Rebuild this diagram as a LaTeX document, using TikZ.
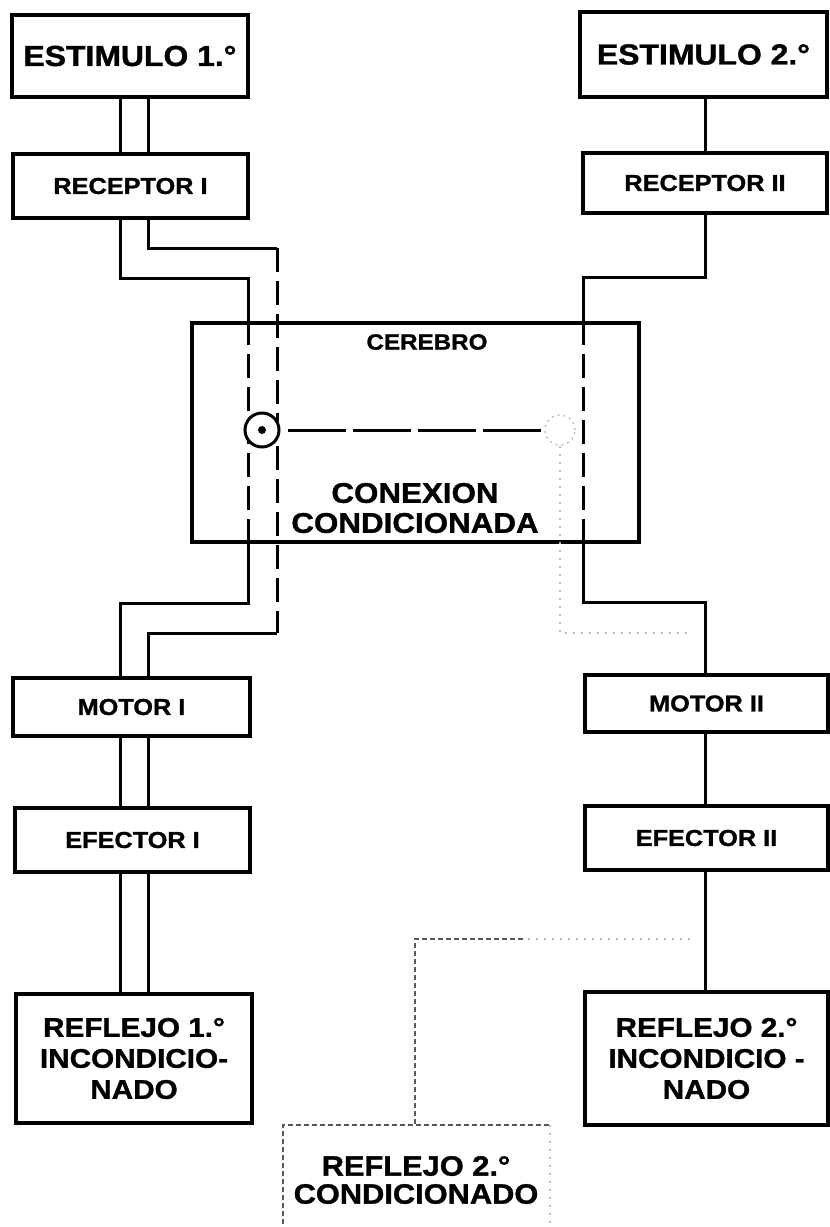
\documentclass[tikz,border=0pt]{standalone}
\usepackage{fontspec}
\newfontfamily\lab[FakeStretch=1.1,FakeBold=1.2]{Liberation Sans}
\begin{document}
\begin{tikzpicture}[x=1pt,y=-1pt,
  box/.style={draw, line width=3.6pt, inner sep=0pt, align=center},
  fz/.style={font=\lab\bfseries\fontsize{#1}{#1}\selectfont},
  wire/.style={line width=3pt, line join=miter},
  brain/.style={wire, dash pattern=on 24pt off 9pt},
  faint/.style={line width=1.3pt, gray!55, dash pattern=on 2pt off 6pt},
  condl/.style={line width=2pt, black!65, dash pattern=on 5pt off 3pt}]
\useasboundingbox (0,0) rectangle (830,1227);
\fill[white] (0,0) rectangle (830,1227);
\clip (0,0) rectangle (830,1227);
% x / y guide coordinates
\coordinate (xa) at (120,0);
\coordinate (xb) at (148,0);
\coordinate (xc) at (248,0);
\coordinate (xd) at (277,0);
\coordinate (xe) at (583,0);
\coordinate (xf) at (705,0);
\coordinate (ya) at (0,278);
\coordinate (yb) at (0,248);
\coordinate (yc) at (0,603);
\coordinate (yd) at (0,633);
\coordinate (ye) at (0,277);
\coordinate (yf) at (0,602);
% boxes
\node[box, fz=29, minimum width=236pt, minimum height=82pt] (est1) at (130,56) {ESTIMULO 1.°};
\node[box, fz=29, minimum width=247pt, minimum height=85pt] (est2) at (703.5,54.5) {ESTIMULO 2.°};
\node[box, fz=23, minimum width=235pt, minimum height=64pt] (rec1) at (130.5,186) {RECEPTOR I};
\node[box, fz=23, minimum width=244pt, minimum height=60pt] (rec2) at (705,183) {RECEPTOR II};
\node[box, minimum width=447pt, minimum height=219pt] (cer) at (415.5,432.5) {};
\node[fz=22] (cerl) at (427,342) {CEREBRO};
\node[font=\lab\bfseries\fontsize{28.5}{30}\selectfont, align=center] (conl) at (415,508) {CONEXION\\CONDICIONADA};
\node[box, fz=23, minimum width=237pt, minimum height=58pt] (mot1) at (131.5,707) {MOTOR I};
\node[box, fz=23, minimum width=243pt, minimum height=57pt] (mot2) at (706.5,703.5) {MOTOR II};
\node[box, fz=23, minimum width=235pt, minimum height=64pt] (efe1) at (132.5,840) {EFECTOR I};
\node[box, fz=23, minimum width=243pt, minimum height=64pt] (efe2) at (706.5,838) {EFECTOR II};
\node[box, font=\lab\bfseries\fontsize{27}{31}\selectfont, minimum width=236pt, minimum height=129pt] (ref1) at (134,1058.5) {REFLEJO 1.°\\INCONDICIO-\\NADO};
\node[box, font=\lab\bfseries\fontsize{27}{31}\selectfont, minimum width=243pt, minimum height=133pt] (ref2) at (706.5,1058.5) {REFLEJO 2.°\\INCONDICIO -\\NADO};
% left pathways
\draw[wire] (est1.south -| xa) -- (rec1.north -| xa);
\draw[wire] (est1.south -| xb) -- (rec1.north -| xb);
\draw[wire] (rec1.south -| xa) |- (xc |- ya) -- (cer.north -| xc);
\draw[brain] (cer.north -| xc) -- (cer.south -| xc);
\draw[wire] (cer.south -| xc) -- (xc |- yc) -| (mot1.north -| xa);
\draw[wire] (rec1.south -| xb) |- (xd |- yb);
\draw[brain] (xd |- yb) -- (xd |- yd);
\draw[wire] (xd |- yd) -| (mot1.north -| xb);
\draw[wire] (mot1.south -| xa) -- (efe1.north -| xa);
\draw[wire] (mot1.south -| xb) -- (efe1.north -| xb);
\draw[wire] (efe1.south -| xa) -- (ref1.north -| xa);
\draw[wire] (efe1.south -| xb) -- (ref1.north -| xb);
% right pathways
\draw[wire] (est2.south -| xf) -- (rec2.north -| xf);
\draw[wire] (rec2.south -| xf) |- (xe |- ye) -- (cer.north -| xe);
\draw[brain] (cer.north -| xe) -- (cer.south -| xe);
\draw[wire] (cer.south -| xe) -- (xe |- yf) -| (mot2.north -| xf);
\draw[wire] (mot2.south -| xf) -- (efe2.north -| xf);
\draw[wire] (efe2.south -| xf) -- (ref2.north -| xf);
% synapses
\node[circle, draw, fill=white, line width=3pt, minimum size=34pt, inner sep=0pt] (syn1) at (262,430) {};
\fill (syn1.center) circle (4pt);
\node[circle, draw=gray!55, line width=1.3pt, dash pattern=on 2pt off 4pt, minimum size=30pt, inner sep=0pt] (syn2) at (560,430) {};
\draw[wire, dash pattern=on 58pt off 7pt] ([xshift=7pt]syn1.east) -- (syn2.west);
% conditioned pathway
\coordinate (fa) at (690,633);
\coordinate (fb) at (690,939);
\coordinate (fc) at (523,939);
\draw[faint] (syn2.south) |- (fa);
\node[fz=28, align=center] (condl) at (416,1180) {REFLEJO 2.°\\CONDICIONADO};
\coordinate (cnw) at (283,1125);
\coordinate (cne) at (550,1125);
\draw[condl] (cnw |- 0,1240) -- (cnw) -- (cne);
\draw[faint] (cne) -- (cne |- 0,1240);
\draw[faint] (fb) -- (fc);
\draw[condl] (fc) -| (cnw -| 415,0);
\end{tikzpicture}
\end{document}
